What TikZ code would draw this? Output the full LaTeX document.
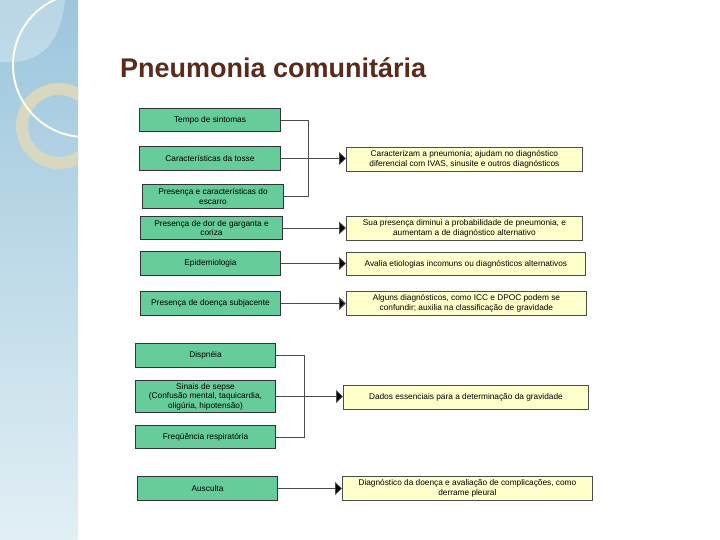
\documentclass[tikz,border=0pt]{standalone}
\usepackage{fontspec}
\setmainfont{Liberation Sans}
\usetikzlibrary{arrows.meta}
\definecolor{gbox}{HTML}{66CC99}
\definecolor{ybox}{HTML}{FFFFCC}
\definecolor{ttl}{HTML}{5A2A1A}
\definecolor{bandtop}{HTML}{9CC6DC}
\definecolor{bandbot}{HTML}{E2EFF5}
\definecolor{ring}{HTML}{D8D8C0}
\tikzset{
 gb/.style={draw=black!80,line width=1pt,fill=gbox,anchor=north west,inner sep=1pt,align=center,font=\fontsize{8.3}{9.5}\selectfont},
 yb/.style={draw=black!70,line width=0.8pt,fill=ybox,anchor=north west,inner sep=1pt,align=center,font=\fontsize{8.3}{9.5}\selectfont},
 con/.style={draw=black!70,line width=0.8pt},
 arr/.style={con,-{Triangle[length=7pt,width=13pt,fill=black]}}
}
\begin{document}
\begin{tikzpicture}[x=1pt,y=-1pt]
\useasboundingbox (0,0) rectangle (720,540);
\fill[white] (0,0) rectangle (720,540);
\begin{scope}
\clip (0,0) rectangle (78,540);
\shade[top color=bandtop,bottom color=bandbot] (0,0) rectangle (78,540);
\fill[white,opacity=0.3] (0,0) -- (65,0) .. controls (60,45) and (40,62) .. (10,62) -- (0,62) -- cycle;
\draw[ring,line width=12pt] (59,126) circle[radius=37];
\draw[white!92!yellow,line width=2pt] (85,65) circle[radius=72];
\end{scope}
\node[anchor=base west,font=\bfseries\fontsize{27}{30}\selectfont,text=ttl,inner sep=0] (title) at (120,78) {Pneumonia comunitária};
\node[gb,minimum width=141pt,minimum height=23pt] (g1) at (139,108) {Tempo de sintomas};
\node[gb,minimum width=141pt,minimum height=24pt] (g2) at (139,146) {Características da tosse};
\node[gb,minimum width=141pt,minimum height=24pt] (g3) at (142,184) {Presença e características do\\escarro};
\node[gb,minimum width=142pt,minimum height=23pt] (g4) at (140,216) {Presença de dor de garganta e\\coriza};
\node[gb,minimum width=140pt,minimum height=24pt] (g5) at (140,251) {Epidemiologia};
\node[gb,minimum width=140pt,minimum height=24pt] (g6) at (140,291) {Presença de doença subjacente};
\node[gb,minimum width=140pt,minimum height=24pt] (g7) at (135,343) {Dispnéia};
\node[gb,minimum width=140pt,minimum height=32pt] (g8) at (135,380) {Sinais de sepse\\(Confusão mental, taquicardia,\\oligúria, hipotensão)};
\node[gb,minimum width=140pt,minimum height=23pt] (g9) at (135,425) {Freqüência respiratória};
\node[gb,minimum width=140pt,minimum height=24pt] (g10) at (137,476) {Ausculta};
\node[yb,minimum width=236pt,minimum height=24pt] (y1) at (346,147) {Caracterizam a pneumonia; ajudam no diagnóstico\\diferencial com IVAS, sinusite e outros diagnósticos};
\node[yb,minimum width=236pt,minimum height=24pt] (y2) at (346,216) {Sua presença diminui a probabilidade de pneumonia, e\\aumentam a de diagnóstico alternativo};
\node[yb,minimum width=239pt,minimum height=23pt] (y3) at (346,252) {Avalia etiologias incomuns ou diagnósticos alternativos};
\node[yb,minimum width=240pt,minimum height=24pt] (y4) at (346,291) {Alguns diagnósticos, como ICC e DPOC podem se\\confundir; auxilia na classificação de gravidade};
\node[yb,minimum width=245pt,minimum height=24pt] (y5) at (343,385) {Dados essenciais para a determinação da gravidade};
\node[yb,minimum width=250pt,minimum height=24pt] (y6) at (342,476) {Diagnóstico da doença e avaliação de complicações, como\\derrame pleural};
\coordinate (b1) at (308,0);
\draw[con] (g1.east) -| (b1 |- g3.east) -- (g3.east);
\draw[arr] (g2.east) -- (g2.east -| y1.west);
\draw[arr] (g4.east) -- (g4.east -| y2.west);
\draw[arr] (g5.east) -- (g5.east -| y3.west);
\draw[arr,line width=1.2pt] (g6.east) -- (g6.east -| y4.west);
\coordinate (b2) at (304,0);
\draw[con] (g7.east) -| (b2 |- g9.east) -- (g9.east);
\draw[arr] (g8.east) -- (g8.east -| y5.west);
\draw[arr] (g10.east) -- (g10.east -| y6.west);
\end{tikzpicture}
\end{document}
